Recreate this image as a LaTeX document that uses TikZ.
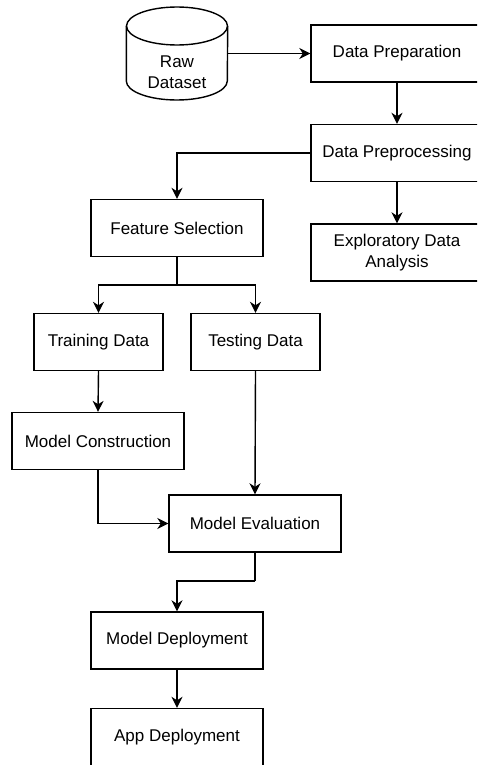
\documentclass[tikz,border=0pt]{standalone}
\usepackage{fontspec}
\setmainfont{Liberation Sans}
\usetikzlibrary{arrows.meta}

\tikzset{
    stage/.style={draw, line width=1.4pt, minimum width=172pt, minimum height=57pt,
                  align=center, inner sep=0pt},
    smallstage/.style={stage, minimum width=129pt},
    flow/.style={line width=1.4pt, -{Stealth[length=11pt,width=11pt,inset=3.5pt]}},
    link/.style={line width=1.4pt}
}

\begin{document}
\begin{tikzpicture}[x=1pt, y=-1pt, font=\fontsize{17}{21}\selectfont]

    \useasboundingbox (0,0) rectangle (477,765);
    \clip (0,0) rectangle (477,765);

    % data source (cylinder)
    \node[minimum width=101pt, minimum height=93pt, inner sep=0pt] (raw) at (177,53.5) {};
    \draw[line width=1.4pt] (177,26) ellipse[x radius=50.5, y radius=19];
    \draw[line width=1.4pt] (raw.west |- 0,26) -- (raw.west |- 0,81)
        arc[start angle=180, end angle=0, x radius=50.5, y radius=19] -- (raw.east |- 0,26);
    \node[align=center] (rawtext) at (177,72) {Raw\\Dataset};

    % right column
    \node[stage] (prep) at (397,53.5) {Data Preparation};
    \node[stage] (preproc) at (397,153) {Data Preprocessing};
    \node[stage] (eda) at (397,252.5) {Exploratory Data\\Analysis};

    % left column
    \node[stage] (feat) at (177,228) {Feature Selection};
    \node[smallstage] (train) at (98.5,342) {Training Data};
    \node[smallstage] (test) at (255.5,342) {Testing Data};
    \node[stage] (constr) at (98,441) {Model Construction};
    \node[stage] (eval) at (255,523.5) {Model Evaluation};
    \node[stage] (mdep) at (177,640.5) {Model Deployment};
    \node[stage] (app) at (177,737) {App Deployment};

    % arrows
    \draw[flow] (raw.east) -- (prep.west);
    \draw[flow] (prep.south) -- (preproc.north);
    \draw[flow] (preproc.west) -| (feat.north);
    \draw[flow] (preproc.south) -- (eda.north);

    \coordinate (split) at (177,285);
    \draw[link] (feat.south) -- (split);
    \draw[flow] (split) -| (train.north);
    \draw[flow] (split) -| (test.north);

    \draw[flow] (train.south) -- (constr.north);
    \draw[flow] (test.south) -- (eval.north);
    \draw[flow] (constr.south) |- (eval.west);

    \coordinate (merge) at (255,581);
    \draw[link] (eval.south) -- (merge);
    \draw[flow] (merge) -| (mdep.north);
    \draw[flow] (mdep.south) -- (app.north);

\end{tikzpicture}
\end{document}
